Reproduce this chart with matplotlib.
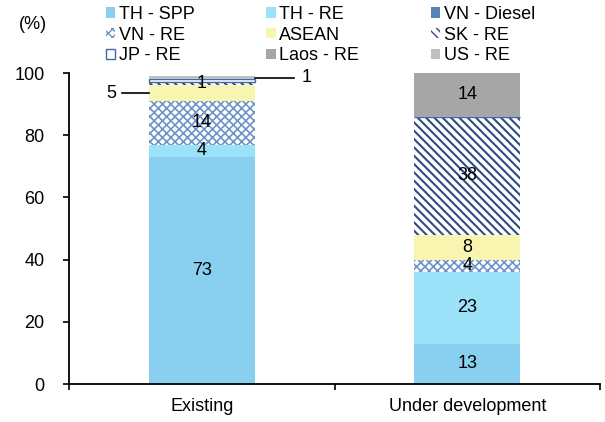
import matplotlib
matplotlib.use("Agg")
import matplotlib.pyplot as plt

plt.rcParams['font.family'] = ['Liberation Sans', 'DejaVu Sans']
plt.rcParams['font.size'] = 13

categories = ["Existing", "Under development"]
series = ["TH - SPP", "TH - RE", "VN - Diesel", "VN - RE", "ASEAN",
          "SK - RE", "JP - RE", "Laos - RE", "US - RE"]

# share of capacity (%) per series, [existing, under development]
th_spp = [73, 13]
th_re = [4, 23]
vn_diesel = [0, 0]
vn_re = [14, 4]
asean = [5, 8]
sk_re = [1, 38]
jp_re = [1, 0]
laos_re = [0, 14]
us_re = [1, 0]
values = [th_spp, th_re, vn_diesel, vn_re, asean, sk_re, jp_re, laos_re, us_re]

# which segments get a number drawn in the middle
show_inside = [
    [True, True],
    [True, True],
    [False, False],
    [True, True],
    [False, True],
    [True, True],
    [False, False],
    [False, True],
    [False, False],
]

styles = [
    dict(color="#89CFF0"),
    dict(color="#9BE2F8"),
    dict(color="#5585B5"),
    dict(facecolor="white", edgecolor="#6F94C8", hatch="xxxx", linewidth=0),
    dict(color="#F8F5B0"),
    dict(facecolor="white", edgecolor="#2F4C86", hatch="\\\\\\\\", linewidth=0),
    dict(facecolor="white", edgecolor="#3E69A8", linewidth=1.0),
    dict(color="#A6A6A6"),
    dict(color="#C0C0C0"),
]
hatch_lw = [1.0, 1.0, 1.0, 1.2, 1.0, 1.5, 1.0, 1.0, 1.0]

fig = plt.figure(figsize=(6.05, 4.22), dpi=100)
ax = fig.add_axes([0.114, 0.09, 0.878, 0.737])

x = list(range(len(categories)))
bottom = [0, 0]
for name, vals, st, inside, hlw in zip(series, values, styles, show_inside, hatch_lw):
    with plt.rc_context({'hatch.linewidth': hlw}):
        ax.bar(x, vals, width=0.4, bottom=bottom, label=name, **st)
    for i in x:
        if inside[i] and vals[i] > 0:
            ax.text(i, bottom[i] + vals[i] / 2, str(vals[i]),
                    ha="center", va="center")
    bottom = [b + v for b, v in zip(bottom, vals)]

# small segments on the existing bar get labels outside with a leader line
asean_mid = th_spp[0] + th_re[0] + vn_diesel[0] + vn_re[0] + asean[0] / 2
ax.plot([-0.30, -0.2], [asean_mid, asean_mid], color="black", lw=1.2)
ax.text(-0.32, asean_mid, str(asean[0]), ha="right", va="center")

us_mid = sum(v[0] for v in values) - us_re[0] / 2
ax.plot([0.2, 0.347], [us_mid, us_mid], color="black", lw=1.2)
ax.text(0.375, us_mid, str(us_re[0]), ha="left", va="center")

ax.set_xlim(-0.5, 1.5)
ax.set_ylim(0, 100)
ax.set_yticks(range(0, 101, 20))
ax.set_xticks(x)
ax.set_xticklabels(categories)
ax.set_xticks([-0.5, 0.5, 1.5], minor=True)
ax.tick_params(axis="x", which="major", length=0, pad=10)
ax.tick_params(axis="x", which="minor", length=4.5, width=1.2, direction="out")
ax.tick_params(axis="y", length=4.5, width=1.2, direction="out", pad=13)
for s in ["top", "right"]:
    ax.spines[s].set_visible(False)
for s in ["left", "bottom"]:
    ax.spines[s].set_linewidth(1.3)

fig.text(0.055, 0.941, "(%)", ha="center", va="center")

# legend laid out row by row, three entries per row
handles, labels = ax.get_legend_handles_labels()
order = [0, 3, 6, 1, 4, 7, 2, 5, 8]
fig.legend([handles[i] for i in order], [labels[i] for i in order],
           ncol=3, loc="upper left", bbox_to_anchor=(0.175, 0.986),
           frameon=False, handlelength=0.5, handleheight=0.5,
           handletextpad=0.2, columnspacing=4.0, labelspacing=0.2,
           borderpad=0, borderaxespad=0)

fig.savefig("out.png", dpi=100)
